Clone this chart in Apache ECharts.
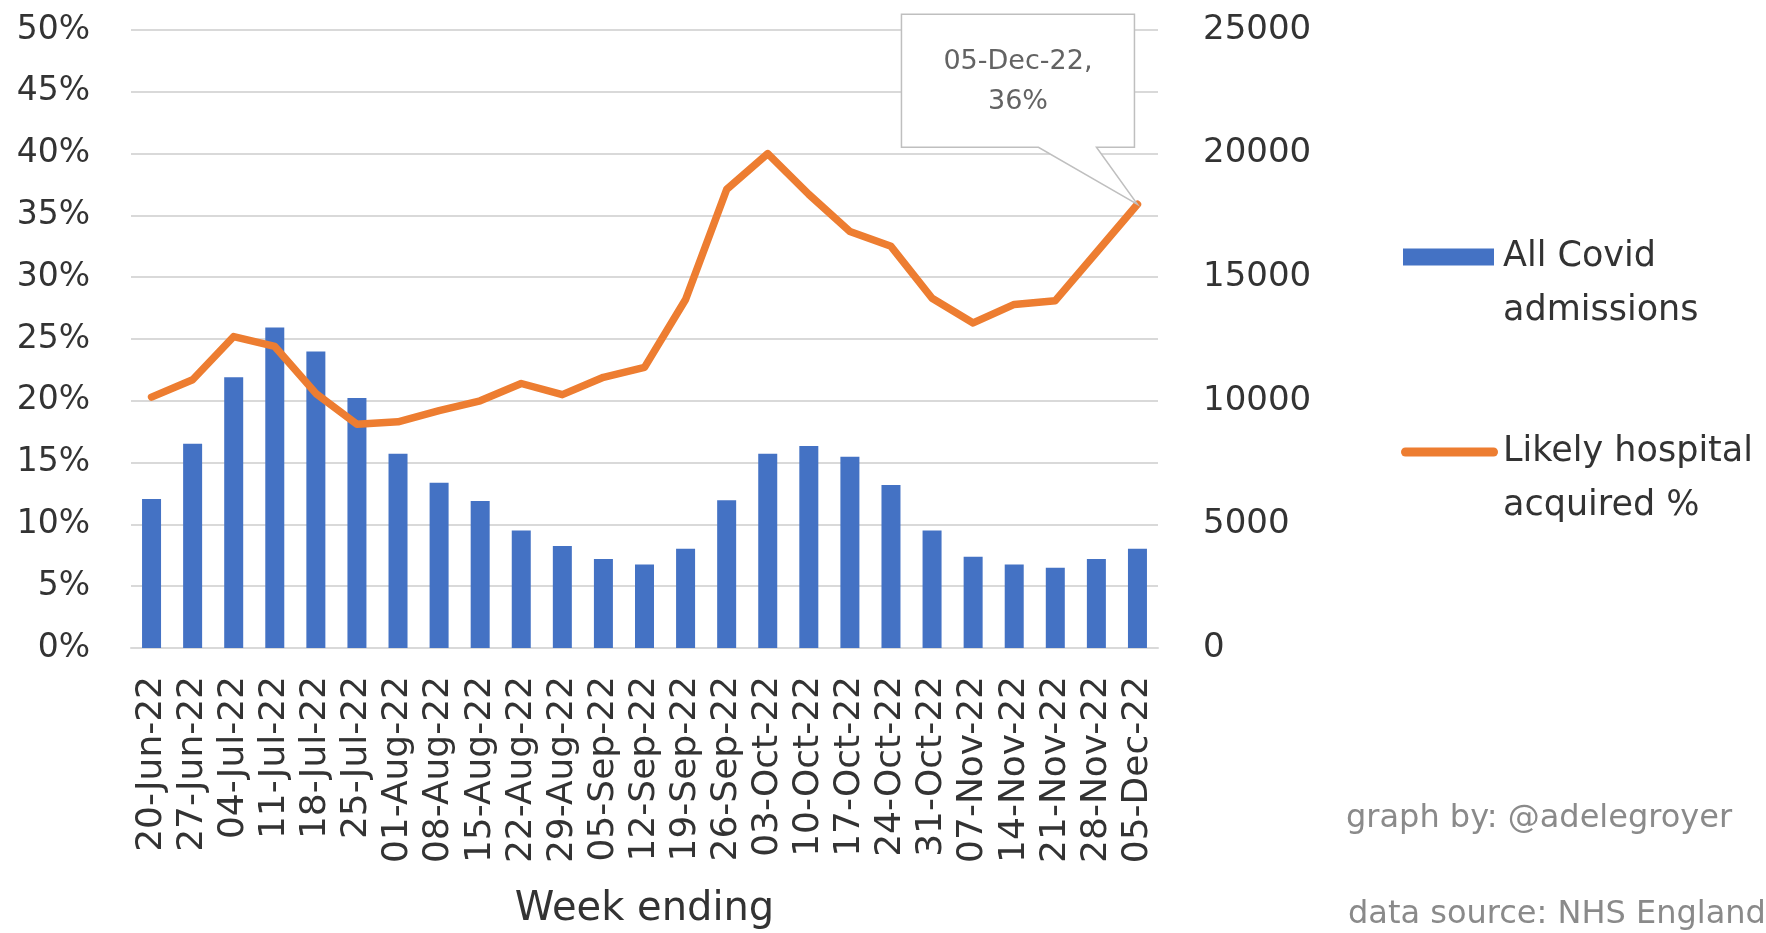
<!DOCTYPE html>
<html>
<head>
<meta charset="utf-8">
<script src="https://cdn.jsdelivr.net/npm/echarts@6/dist/echarts.min.js"></script>
<style>
html, body { margin: 0; padding: 0; background: #fff; }
#chart { width: 1766px; height: 933px; }
</style>
</head>
<body>
<div id="chart"></div>
<script>
var weeks = ['20-Jun-22', '27-Jun-22', '04-Jul-22', '11-Jul-22', '18-Jul-22', '25-Jul-22',
  '01-Aug-22', '08-Aug-22', '15-Aug-22', '22-Aug-22', '29-Aug-22', '05-Sep-22', '12-Sep-22',
  '19-Sep-22', '26-Sep-22', '03-Oct-22', '10-Oct-22', '17-Oct-22', '24-Oct-22', '31-Oct-22',
  '07-Nov-22', '14-Nov-22', '21-Nov-22', '28-Nov-22', '05-Dec-22'];
var admissions = [6030, 8260, 10950, 12970, 11990, 10110, 7860, 6680, 5950, 4750, 4130, 3600, 3380,
  4010, 5980, 7860, 8175, 7735, 6590, 4750, 3690, 3380, 3250, 3600, 4010];
var hospitalPct = [20.3, 21.7, 25.2, 24.4, 20.6, 18.1, 18.3, 19.2, 20.0, 21.4, 20.5, 21.9, 22.7,
  28.2, 37.1, 40.0, 36.7, 33.7, 32.5, 28.3, 26.3, 27.8, 28.1, 32.0, 35.9];
var seriesNames = ['All Covid\nadmissions', 'Likely hospital\nacquired %'];
var credits = ['graph by: @adelegroyer', 'data source: NHS England'];

function drawChart(){
  var chartDom = document.getElementById('chart');
  var myChart = echarts.init(chartDom);
  var font = 'DejaVu Sans';
  var textColor = '#333';
  var option;
  option = {
    animation: false,
    backgroundColor: '#fff',
    textStyle: { fontFamily: font },
    grid: { left: 131, right: 608, top: 30, bottom: 285, containLabel: false, outerBoundsMode: 'none' },
    legend: {
      orient: 'vertical',
      left: 1396,
      top: 171,
      itemGap: 33,
      itemWidth: 97,
      itemHeight: 19,
      // blank first line keeps the icon level with the first text line
      formatter: function (name) { return '\n' + name; },
      textStyle: { fontFamily: font, fontSize: 35, color: textColor, lineHeight: 54 },
      data: [
        // the trailing move keeps a gap between icon and text
        { name: seriesNames[0], icon: 'path://M0,0M2,1H93V18H2ZM97,19' },
        { name: seriesNames[1], icon: 'path://M0,0M4.5,5H93.5A4.5,4.5,0,0,1,93.5,14H4.5A4.5,4.5,0,0,1,4.5,5ZM97,19' }
      ]
    },
    xAxis: {
      type: 'category',
      data: weeks,
      name: 'Week ending',
      nameLocation: 'middle',
      nameGap: 242,
      nameTextStyle: { fontFamily: font, fontSize: 40, color: textColor },
      axisTick: { show: false },
      axisLine: { lineStyle: { color: '#d9d9d9', width: 2 } },
      axisLabel: {
        interval: 0, rotate: 90, margin: 28,
        fontFamily: font, fontSize: 36, color: textColor
      }
    },
    yAxis: [
      {
        type: 'value', min: 0, max: 50, interval: 5,
        axisLabel: { formatter: '{value}%', fontFamily: font, fontSize: 33, color: textColor, margin: 41 },
        splitLine: { lineStyle: { color: '#d9d9d9', width: 2 } }
      },
      {
        type: 'value', min: 0, max: 25000, interval: 5000,
        axisLabel: {
          formatter: function (v) { return String(v); },
          fontFamily: font, fontSize: 34, color: textColor, margin: 45
        },
        splitLine: { show: false }
      }
    ],
    series: [
      {
        name: seriesNames[0],
        type: 'bar',
        yAxisIndex: 1,
        barWidth: 19,
        itemStyle: { color: '#4472c4' },
        data: admissions
      },
      {
        name: seriesNames[1],
        type: 'line',
        yAxisIndex: 0,
        symbol: 'none',
        lineStyle: { color: '#ed7d31', width: 7.5, join: 'round', cap: 'round' },
        itemStyle: { color: '#ed7d31' },
        data: hospitalPct
      }
    ]
  };
  option && myChart.setOption(option);

  // callout on the last point of the line
  var last = weeks.length - 1;
  var tip = myChart.convertToPixel({ xAxisIndex: 0, yAxisIndex: 0 }, [weeks[last], hospitalPct[last]]);
  var L = tip[0] - 236, R = tip[0] - 3, T = tip[1] - 190, B = tip[1] - 57;
  myChart.setOption({
    graphic: [
      {
        id: 'credit1', type: 'text', x: 1346, y: 819,
        style: { text: credits[0], fontFamily: font, fontSize: 32, fill: '#8a8a8a', verticalAlign: 'middle' }
      },
      {
        id: 'credit2', type: 'text', x: 1348, y: 915,
        style: { text: credits[1], fontFamily: font, fontSize: 32, fill: '#8a8a8a', verticalAlign: 'middle' }
      },
      {
        id: 'calloutBox', type: 'polygon', z: 100,
        shape: { points: [[L, T], [R, T], [R, B], [tip[0] - 41, B], tip, [tip[0] - 99, B], [L, B]] },
        style: { fill: '#fff', stroke: '#bfbfbf', lineWidth: 1.5 }
      },
      {
        id: 'calloutText', type: 'text', z: 101, x: (L + R) / 2, y: T + 68,
        style: {
          text: weeks[last] + ',\n' + Math.round(hospitalPct[last]) + '%',
          fontFamily: font, fontSize: 27, lineHeight: 40, fill: '#636363',
          align: 'center', verticalAlign: 'middle'
        }
      }
    ]
  });
}
drawChart();
</script>
</body>
</html>
